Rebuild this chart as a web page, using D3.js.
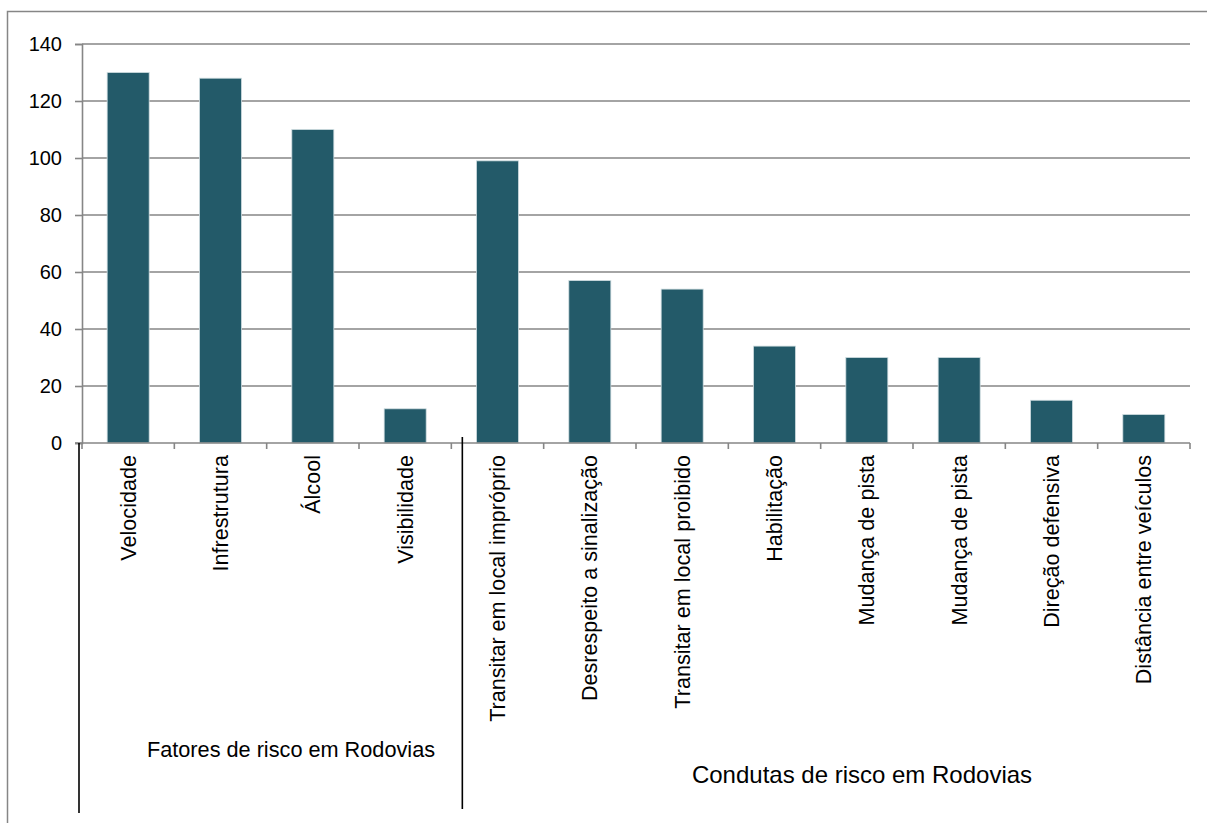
<!DOCTYPE html>
<html>
<head>
<meta charset="utf-8">
<script src="https://cdn.jsdelivr.net/npm/d3@7"></script>
<style>
  body { margin: 0; background: #fff; }
  text { font-family: "Liberation Sans", Arial, sans-serif; fill: #000; }
</style>
</head>
<body>
<svg id="chart" width="1207" height="823"></svg>
<script>
// categories and values
var categories = ["Velocidade", "Infrestrutura", "Álcool", "Visibilidade",
	"Transitar em local impróprio", "Desrespeito a sinalização", "Transitar em local proibido",
	"Habilitação", "Mudança de pista", "Mudança de pista", "Direção defensiva", "Distância entre veículos"];
var values = [130, 128, 110, 12, 99, 57, 54, 34, 30, 30, 15, 10];
var yTicks = [0, 20, 40, 60, 80, 100, 120, 140];
var groups = ["Fatores de risco em Rodovias", "Condutas de risco em Rodovias"];
var groupSizes = [4, 8];

var margin = {top: 44, left: 82, right: 17, bottom: 380};
var W = 1207, H = 823;
var width = W - margin.left - margin.right,
	height = H - margin.top - margin.bottom;

var svg = d3.select("#chart");

// outer frame (runs off right/bottom edge like the original)
svg.append("rect")
	.attr("x", 7.5).attr("y", 11.5)
	.attr("width", 1220).attr("height", 830)
	.attr("fill", "none")
	.attr("stroke", "#868686")
	.attr("stroke-width", 1.5);

var g = svg.append("g")
	.attr("transform", "translate(" + margin.left + "," + margin.top + ")");

var x = d3.scaleBand()
	.domain(d3.range(categories.length))
	.range([0, width])
	.paddingInner(0.545)
	.paddingOuter(0.2725);

var y = d3.scaleLinear()
	.domain([0, 140])
	.range([height, 0]);

var step = width / categories.length;

// gridlines
g.append("g")
	.selectAll("line")
	.data(yTicks.slice(1))
	.enter()
	.append("line")
	.attr("x1", 0).attr("x2", width)
	.attr("y1", function(d) { return y(d); })
	.attr("y2", function(d) { return y(d); })
	.attr("stroke", "#868686")
	.attr("stroke-width", 1.6);

// y axis
var yAxis = g.append("g")
	.call(d3.axisLeft(y).tickValues(yTicks).tickSize(7).tickPadding(13));
yAxis.select(".domain").attr("stroke", "#868686").attr("stroke-width", 1.6);
yAxis.selectAll(".tick line").attr("stroke", "#868686").attr("stroke-width", 1.6);
yAxis.selectAll(".tick text")
	.style("font-size", "20px")
	.style("font-family", "Liberation Sans, Arial, sans-serif")
	.attr("fill", "#000");

// bars
g.append("g")
	.selectAll("rect")
	.data(values)
	.enter()
	.append("rect")
	.attr("x", function(d, i) { return x(i); })
	.attr("width", x.bandwidth())
	.attr("y", function(d) { return y(d); })
	.attr("height", function(d) { return height - y(d); })
	.attr("fill", "#235a69")
	.attr("stroke", "#cfdde0")
	.attr("stroke-width", 0.8);

// x axis line and boundary ticks
g.append("line")
	.attr("x1", -7).attr("x2", width)
	.attr("y1", height).attr("y2", height)
	.attr("stroke", "#868686")
	.attr("stroke-width", 1.6);

g.append("g")
	.selectAll("line")
	.data(d3.range(categories.length + 1))
	.enter()
	.append("line")
	.attr("x1", function(i) { return i * step; })
	.attr("x2", function(i) { return i * step; })
	.attr("y1", height).attr("y2", height + 6)
	.attr("stroke", "#868686")
	.attr("stroke-width", 1.6);

// rotated category labels
g.append("g")
	.selectAll("text")
	.data(categories)
	.enter()
	.append("text")
	.attr("transform", function(d, i) {
		return "translate(" + (x(i) + x.bandwidth() / 2) + "," + (height + 12) + ") rotate(-90)";
	})
	.attr("text-anchor", "end")
	.attr("dy", "0.35em")
	.style("font-size", "21.6px")
	.text(function(d) { return d; });

// group separators
var sepX = [-3, groupSizes[0] * step + 11];
var sepTop = [height, height - 6];
var sepBottom = [813, 809];
g.append("g")
	.selectAll("line")
	.data(sepX)
	.enter()
	.append("line")
	.attr("x1", function(d) { return d; })
	.attr("x2", function(d) { return d; })
	.attr("y1", function(d, i) { return sepTop[i]; })
	.attr("y2", function(d, i) { return sepBottom[i] - margin.top; })
	.attr("stroke", "#000")
	.attr("stroke-width", 1.6);

// group labels
var groupPos = [[291, 757], [862, 783]];
var groupFont = [21.7, 24];
svg.append("g")
	.selectAll("text")
	.data(groups)
	.enter()
	.append("text")
	.attr("x", function(d, i) { return groupPos[i][0]; })
	.attr("y", function(d, i) { return groupPos[i][1]; })
	.attr("text-anchor", "middle")
	.style("font-size", function(d, i) { return groupFont[i] + "px"; })
	.text(function(d) { return d; });
</script>
</body>
</html>
